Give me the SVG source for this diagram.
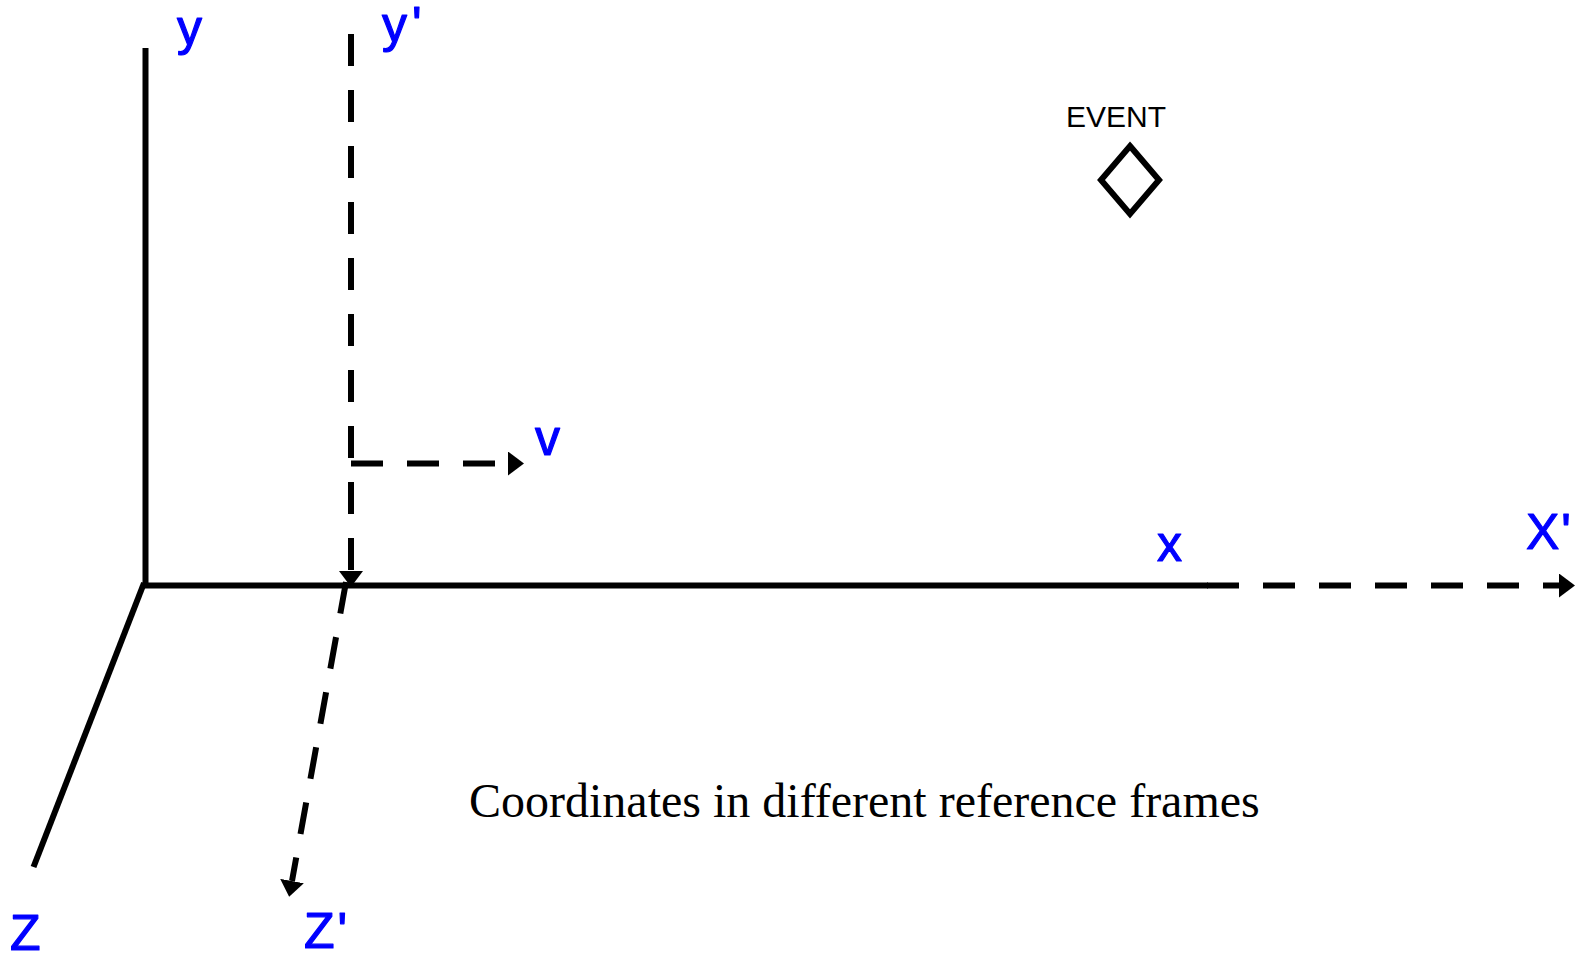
<svg xmlns="http://www.w3.org/2000/svg" width="1580" height="960" viewBox="0 0 1580 960">
  <style>
    .axis { stroke: #000; stroke-width: 6; fill: none; }
    .dash { stroke: #000; stroke-width: 6; fill: none; stroke-dasharray: 32 24; }
    .lbl { font-family: "Liberation Sans", Arial, sans-serif; fill: #0000FF; stroke: #0000FF; stroke-width: 1.2; stroke-linejoin: round; font-size: 50px; }
    .evt { font-family: "Liberation Sans", Arial, sans-serif; fill: #000; font-size: 30px; }
    .cap { font-family: "Liberation Serif", "Times New Roman", serif; fill: #000; font-size: 48px; }
  </style>
  <defs>
    <marker id="arr" viewBox="0 0 16 24" refX="0" refY="12" markerWidth="16" markerHeight="24" markerUnits="userSpaceOnUse" orient="auto">
      <path d="M0,0 L16,12 L0,24 z" fill="#000"/>
    </marker>
  </defs>
  <rect width="1580" height="960" fill="#fff"/>
  <g id="connectors">
    <line id="axis-y" class="axis" x1="145.5" y1="48" x2="145.5" y2="585.5"/>
    <line id="axis-x" class="axis" x1="142.5" y1="585.5" x2="1208" y2="585.5"/>
    <line id="axis-z" class="axis" x1="144" y1="583" x2="33.5" y2="867"/>
    <line id="axis-yp" class="dash" x1="351" y1="34" x2="351" y2="571" marker-end="url(#arr)"/>
    <line id="axis-xp" class="dash" x1="1207" y1="585.5" x2="1559" y2="585.5" marker-end="url(#arr)"/>
    <line id="axis-zp" class="dash" x1="346" y1="582" x2="292" y2="881" marker-end="url(#arr)"/>
    <line id="velocity" class="dash" x1="351" y1="463.5" x2="508" y2="463.5" marker-end="url(#arr)"/>
  </g>
  <g id="label-y"><text class="lbl" x="177" y="45">y</text></g>
  <g id="label-yp"><text class="lbl" x="382" y="42" letter-spacing="5">y'</text></g>
  <g id="label-x"><text class="lbl" x="1157" y="561">x</text></g>
  <g id="label-xp"><text class="lbl" x="1526" y="549" font-size="48" letter-spacing="2">X'</text></g>
  <g id="label-z"><text class="lbl" x="10" y="950" font-size="48">Z</text></g>
  <g id="label-zp"><text class="lbl" x="304" y="948" font-size="48" letter-spacing="3">Z'</text></g>
  <g id="label-v"><text class="lbl" x="535" y="455" font-size="44">v</text></g>
  <g id="event">
    <text class="evt" x="1066" y="127">EVENT</text>
    <polygon points="1130,146 1159,180 1130,214 1101,180" fill="none" stroke="#000" stroke-width="6"/>
  </g>
  <g id="caption"><text class="cap" x="469" y="817">Coordinates in different reference frames</text></g>
</svg>
